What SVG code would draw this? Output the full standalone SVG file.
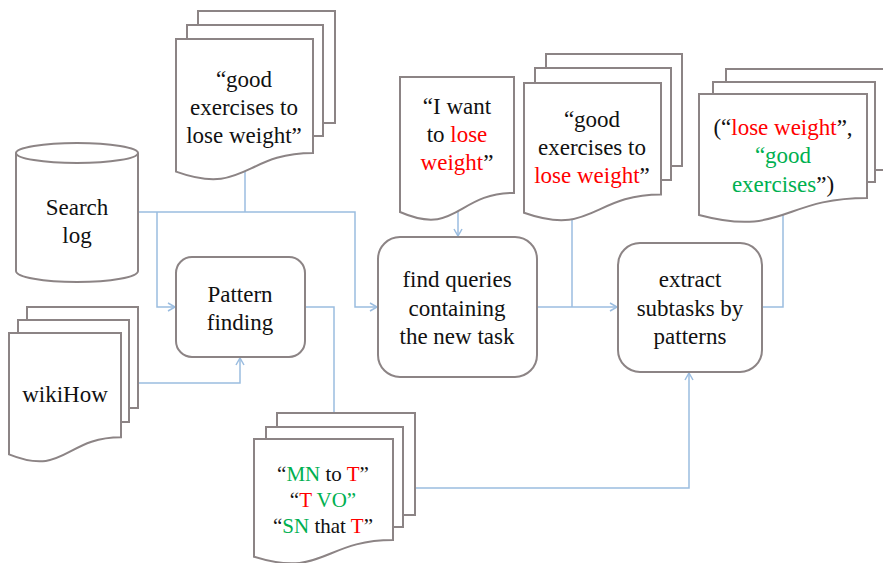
<svg xmlns="http://www.w3.org/2000/svg" width="883" height="563" viewBox="0 0 883 563">
<defs>
<style>
.sh{fill:#fff;stroke:#8c8485;stroke-width:2}
.cn{fill:none;stroke:#9bbde0;stroke-width:1.5}
.t{font-family:'Liberation Serif','Times New Roman',Times,'DejaVu Serif',serif;font-size:23px;fill:#111;text-anchor:middle}
.ts{font-size:21px}
.r{fill:#ff0000}
.g{fill:#00b050}
</style>
<marker id="ar" markerUnits="userSpaceOnUse" markerWidth="12" markerHeight="12" refX="8" refY="5" orient="auto">
<path d="M1,1 L8,5 L1,9" fill="none" stroke="#9bbde0" stroke-width="1.5"/>
</marker>
</defs>
<rect width="883" height="563" fill="#fff"/>
<g id="connectors">
<path class="cn" d="M138,212 H355 V307 H377" marker-end="url(#ar)"/>
<path class="cn" d="M157,212 V307 H175" marker-end="url(#ar)"/>
<path class="cn" d="M245,150 V212"/>
<path class="cn" d="M138,383 H240 V358" marker-end="url(#ar)"/>
<path class="cn" d="M305,307 H334 V413"/>
<path class="cn" d="M458,200 V236" marker-end="url(#ar)"/>
<path class="cn" d="M537,307 H617" marker-end="url(#ar)"/>
<path class="cn" d="M572,200 V307"/>
<path class="cn" d="M415,488 H689 V373" marker-end="url(#ar)"/>
<path class="cn" d="M762,307 H783 V200"/>
</g>
<g id="search-log">
<path class="sh" d="M16,153 V271 A61,11 0 0 0 138,271 V153"/>
<ellipse class="sh" cx="77" cy="153" rx="61" ry="10"/>
<text class="t" x="77" y="215" font-family="Liberation Serif, serif">Search</text>
<text class="t" x="77" y="243">log</text>
</g>
<g id="doc-query-examples">
<rect class="sh" x="198" y="11" width="137" height="112"/>
<rect class="sh" x="187" y="25" width="136" height="111"/>
<path class="sh" d="M176,39 H313 V152.9 C244.5,152.9 244.5,196.3 176,171.6 Z"/>
<text class="t" x="244" y="87">“good</text>
<text class="t" x="244" y="115">exercises to</text>
<text class="t" x="244" y="143">lose weight”</text>
</g>
<g id="wikihow">
<rect class="sh" x="27" y="307" width="111" height="101"/>
<rect class="sh" x="18" y="320" width="111" height="102"/>
<path class="sh" d="M9,333 H121 V437.3 C65,437.3 65,477 9,454.4 Z"/>
<text class="t" x="65" y="402">wikiHow</text>
</g>
<g id="pattern-finding">
<rect class="sh" x="176" y="257" width="129" height="100" rx="16"/>
<text class="t" x="240" y="302">Pattern</text>
<text class="t" x="240" y="330">finding</text>
</g>
<g id="patterns-doc">
<rect class="sh" x="277" y="413" width="138" height="102"/>
<rect class="sh" x="266" y="427" width="137" height="100"/>
<path class="sh" d="M254,439 H393 V540 C323.5,540 323.5,578.5 254,556.7 Z"/>
<text class="t ts" x="323" y="481">“<tspan class="g">MN</tspan> to <tspan class="r">T</tspan>”</text>
<text class="t ts" x="323" y="507">“<tspan class="r">T</tspan> <tspan class="g">VO”</tspan></text>
<text class="t ts" x="323" y="533">“<tspan class="g">SN</tspan> that <tspan class="r">T</tspan>”</text>
</g>
<g id="doc-new-task">
<path class="sh" d="M400,77 H514 V192.9 C457,192.9 457,237 400,212 Z"/>
<text class="t" x="457" y="114">“I want</text>
<text class="t" x="457" y="142">to <tspan class="r">lose</tspan></text>
<text class="t" x="457" y="170"><tspan class="r">weight</tspan>”</text>
</g>
<g id="find-queries">
<rect class="sh" x="378" y="237" width="159" height="140" rx="22"/>
<text class="t" x="457" y="287">find queries</text>
<text class="t" x="457" y="316">containing</text>
<text class="t" x="457" y="344">the new task</text>
</g>
<g id="doc-matched-queries">
<rect class="sh" x="546" y="54" width="136" height="112"/>
<rect class="sh" x="535" y="68" width="136" height="112"/>
<path class="sh" d="M524,83 H661 V194.5 C592.5,194.5 592.5,237 524,212.8 Z"/>
<text class="t" x="592" y="127">“good</text>
<text class="t" x="592" y="155">exercises to</text>
<text class="t" x="592" y="183"><tspan class="r">lose weight</tspan>”</text>
</g>
<g id="extract-subtasks">
<rect class="sh" x="618" y="243" width="144" height="129" rx="22"/>
<text class="t" x="690" y="287">extract</text>
<text class="t" x="690" y="316">subtasks by</text>
<text class="t" x="690" y="344">patterns</text>
</g>
<g id="doc-subtasks">
<rect class="sh" x="726" y="69" width="161" height="101"/>
<rect class="sh" x="713" y="82" width="162" height="100"/>
<path class="sh" d="M699,94 H867 V197.9 C783,197.9 783,237.4 699,215 Z"/>
<text class="t" x="783" y="135">(“<tspan class="r">lose weight</tspan>”,</text>
<text class="t" x="783" y="163"><tspan class="g">“good</tspan></text>
<text class="t" x="783" y="192"><tspan class="g">exercises</tspan>”)</text>
</g>
</svg>
